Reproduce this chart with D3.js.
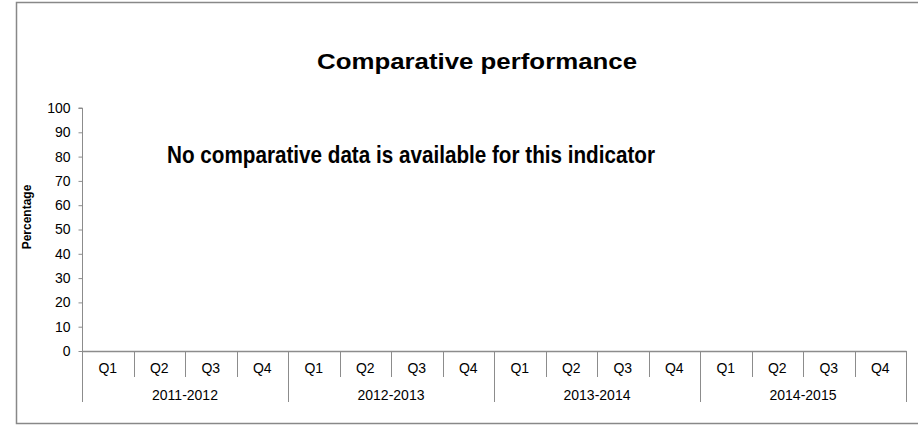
<!DOCTYPE html>
<html>
<head>
<meta charset="utf-8">
<script src="https://cdn.jsdelivr.net/npm/d3@7"></script>
<style>
  html, body { margin: 0; padding: 0; background: #fff; }
  svg { display: block; font-family: "Liberation Sans", Arial, sans-serif; }
</style>
</head>
<body>
<svg id="chart" width="918" height="426"></svg>
<script>
const chartTitle = "Comparative performance";
const noDataMessage = "No comparative data is available for this indicator";
const yAxisTitle = "Percentage";
const years = ["2011-2012", "2012-2013", "2013-2014", "2014-2015"];
const quarters = ["Q1", "Q2", "Q3", "Q4"];
const yTicks = [0, 10, 20, 30, 40, 50, 60, 70, 80, 90, 100];
const values = []; // no comparative data available

const svg = d3.select("#chart");
const axisColor = "#8c8c8c";

// outer frame
svg.append("rect")
  .attr("x", 16.5).attr("y", 2.5)
  .attr("width", 920).attr("height", 421)
  .attr("fill", "#fff").attr("stroke", "#888").attr("stroke-width", 1.5);

const categories = [];
years.forEach(y => quarters.forEach(q => categories.push({ year: y, quarter: q, key: y + "|" + q })));

const x = d3.scaleBand().domain(categories.map(d => d.key)).range([82, 906]).padding(0);
const y = d3.scaleLinear().domain([0, 100]).range([351, 108]);

// title
svg.append("text")
  .attr("x", 477).attr("y", 69)
  .attr("text-anchor", "middle")
  .attr("font-weight", "bold").attr("font-size", 22)
  .attr("textLength", 320).attr("lengthAdjust", "spacingAndGlyphs")
  .attr("fill", "#000")
  .text(chartTitle);

// y axis
const yAxis = d3.axisLeft(y).tickValues(yTicks).tickSize(4).tickPadding(8).tickFormat(d3.format("d"));
const gy = svg.append("g").attr("transform", "translate(82.5,0)").call(yAxis);
gy.select(".domain").attr("stroke", axisColor).attr("d", `M-4,${y(100)}H0V${y(0)}`);
gy.selectAll(".tick line").attr("stroke", axisColor);
gy.selectAll(".tick text").attr("font-size", 14).attr("fill", "#000")
  .attr("font-family", "Liberation Sans, Arial, sans-serif");

// y axis title
svg.append("text")
  .attr("transform", "translate(31,217) rotate(-90)")
  .attr("text-anchor", "middle")
  .attr("font-weight", "bold").attr("font-size", 12)
  .attr("fill", "#000")
  .text(yAxisTitle);

// x axis baseline
svg.append("line")
  .attr("x1", 82).attr("x2", 906.5)
  .attr("y1", y(0) + 0.5).attr("y2", y(0) + 0.5)
  .attr("stroke", axisColor).attr("stroke-width", 1.5);

// category separators and quarter labels
const gx = svg.append("g");
categories.forEach((d, i) => {
  const xl = Math.round(x(d.key)) + 0.5;
  const isGroupStart = i % quarters.length === 0;
  gx.append("line")
    .attr("x1", xl).attr("x2", xl)
    .attr("y1", y(0)).attr("y2", isGroupStart ? 402 : 377)
    .attr("stroke", axisColor).attr("stroke-width", 1);
  gx.append("text")
    .attr("x", x(d.key) + x.bandwidth() / 2)
    .attr("y", 373)
    .attr("text-anchor", "middle")
    .attr("font-size", 14).attr("fill", "#000")
    .text(d.quarter);
});
const xEnd = Math.round(x.range()[1]) + 0.5;
gx.append("line").attr("x1", xEnd).attr("x2", xEnd).attr("y1", y(0)).attr("y2", 402)
  .attr("stroke", axisColor);

// year group labels
years.forEach(yr => {
  const first = x(yr + "|" + quarters[0]);
  const last = x(yr + "|" + quarters[quarters.length - 1]) + x.bandwidth();
  gx.append("text")
    .attr("x", (first + last) / 2)
    .attr("y", 400)
    .attr("text-anchor", "middle")
    .attr("font-size", 14).attr("fill", "#000")
    .text(yr);
});

// (no data marks)
svg.append("g").selectAll("rect").data(values).join("rect")
  .attr("x", d => x(d.key)).attr("width", x.bandwidth())
  .attr("y", d => y(d.value)).attr("height", d => y(0) - y(d.value));

// no data message
svg.append("text")
  .attr("x", 411).attr("y", 163)
  .attr("text-anchor", "middle")
  .attr("font-weight", "bold").attr("font-size", 24)
  .attr("font-family", "'Liberation Sans Narrow', 'Arial Narrow', 'Liberation Sans', Arial, sans-serif")
  .attr("textLength", 488).attr("lengthAdjust", "spacingAndGlyphs")
  .attr("fill", "#000")
  .text(noDataMessage);
</script>
</body>
</html>
